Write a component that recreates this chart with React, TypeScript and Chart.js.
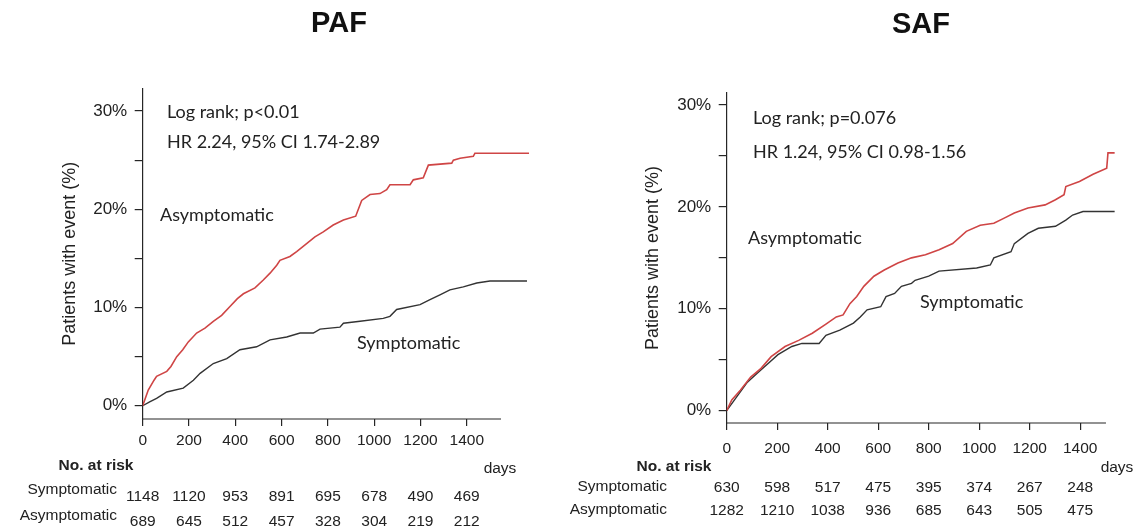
import { useEffect, useRef } from 'react';
import { Chart, registerables } from 'chart.js';

Chart.register(...registerables);

// ---------- data ----------
const X_TICKS = [0, 200, 400, 600, 800, 1000, 1200, 1400];
const Y_TICKS = [0, 5, 10, 15, 20, 25, 30];
const Y_LABELED = [0, 10, 20, 30];

// [days, % patients with event]
const PAF_ASYMPTOMATIC: [number, number][] = [
  [0, 0], [24, 1.6], [49, 2.6], [60, 3.0], [104, 3.5], [122, 4.0], [147, 5.0], [173, 5.7],
  [197, 6.5], [233, 7.4], [269, 7.9], [305, 8.6], [341, 9.2], [377, 10.1], [409, 10.9],
  [435, 11.4], [485, 12.0], [521, 12.8], [550, 13.5], [579, 14.3], [593, 14.8], [636, 15.2],
  [665, 15.7], [708, 16.5], [744, 17.2], [780, 17.7], [823, 18.4], [867, 18.9], [920, 19.3],
  [946, 20.9], [982, 21.5], [1025, 21.6], [1054, 22.0], [1068, 22.5], [1155, 22.5],
  [1169, 23.0], [1212, 23.2], [1234, 24.5], [1335, 24.7], [1342, 25.0], [1371, 25.2],
  [1428, 25.4], [1435, 25.7], [1669, 25.7],
];
const PAF_SYMPTOMATIC: [number, number][] = [
  [0, 0], [30, 0.4], [60, 0.75], [104, 1.4], [175, 1.8], [219, 2.6], [248, 3.3], [305, 4.3],
  [363, 4.8], [420, 5.7], [492, 6.0], [550, 6.7], [622, 7.0], [680, 7.4], [737, 7.4],
  [766, 7.8], [852, 8.0], [867, 8.4], [939, 8.6], [1039, 8.9], [1068, 9.1], [1097, 9.8],
  [1198, 10.3], [1241, 10.8], [1284, 11.3], [1327, 11.8], [1385, 12.1], [1443, 12.5],
  [1500, 12.7], [1660, 12.7],
];
const SAF_ASYMPTOMATIC: [number, number][] = [
  [0, 0], [20, 1.05], [54, 2.0], [95, 3.3], [136, 4.15], [176, 5.3], [231, 6.3], [285, 6.9],
  [339, 7.6], [393, 8.5], [434, 9.2], [461, 9.4], [488, 10.5], [515, 11.2], [543, 12.2],
  [583, 13.2], [624, 13.8], [678, 14.5], [732, 15.0], [787, 15.3], [841, 15.8], [895, 16.4],
  [949, 17.6], [1004, 18.2], [1058, 18.4], [1099, 18.9], [1139, 19.4], [1193, 19.9],
  [1261, 20.2], [1302, 20.7], [1336, 21.2], [1343, 22.0], [1397, 22.5], [1451, 23.2],
  [1505, 23.8], [1510, 25.3], [1537, 25.3],
];
const SAF_SYMPTOMATIC: [number, number][] = [
  [0, 0], [41, 1.4], [82, 2.8], [122, 3.7], [163, 4.6], [203, 5.5], [258, 6.3], [298, 6.6],
  [366, 6.6], [393, 7.4], [448, 7.9], [502, 8.6], [529, 9.2], [556, 9.9], [610, 10.2],
  [631, 11.2], [665, 11.5], [692, 12.2], [732, 12.5], [746, 12.8], [800, 13.2], [841, 13.7],
  [990, 14.0], [1044, 14.3], [1058, 15.0], [1126, 15.6], [1139, 16.4], [1193, 17.4],
  [1234, 17.9], [1302, 18.1], [1343, 18.7], [1370, 19.2], [1411, 19.55], [1537, 19.55],
];

const PAF_RISK_SYMPTOMATIC = [1148, 1120, 953, 891, 695, 678, 490, 469];
const PAF_RISK_ASYMPTOMATIC = [689, 645, 512, 457, 328, 304, 219, 212];
const SAF_RISK_SYMPTOMATIC = [630, 598, 517, 475, 395, 374, 267, 248];
const SAF_RISK_ASYMPTOMATIC = [1282, 1210, 1038, 936, 685, 643, 505, 475];

// ---------- styles ----------
const W = 1137;
const H = 529;
const RED = '#cf4545';
const BLACK = '#333333';
const AXIS = '#262626';
const TEXT = '#222222';
const ARIAL = '"Liberation Sans", Arial, sans-serif';
const CALIBRI = 'Lato, "Open Sans", sans-serif';
const X_AXIS_H = 60;

function hasFont(name: string): boolean {
  const c = document.createElement('canvas').getContext('2d');
  if (!c) return false;
  const s = '1234567890 abcdefghij';
  c.font = '20px monospace';
  const a = c.measureText(s).width;
  c.font = `20px "${name}", monospace`;
  const b = c.measureText(s).width;
  return Math.abs(a - b) > 0.5;
}

type Txt = { text: string; x: number; y: number };
type Panel = {
  key: string;
  canvasLeft: number;
  canvasWidth: number;
  plotLeft: number;
  plotRight: number;
  plotTop: number;
  plotBottom: number;
  xMax: number;
  axisEndDay: number;
  yMin: number;
  yMax: number;
  xTickPad: number;
  yTitleX: number;
  asym: [number, number][];
  sym: [number, number][];
  title: Txt;
  notes: Txt[];
  curveLabels: Txt[];
  riskHeader: Txt;
  days: Txt;
  rowLabelRight: number;
  rows: { label: string; values: number[]; labelY: number; valueY: number }[];
};

const PANELS: Panel[] = [
  {
    key: 'PAF',
    canvasLeft: 0,
    canvasWidth: 568,
    plotLeft: 142.7,
    plotRight: 529.3,
    plotTop: 88.5,
    plotBottom: 419,
    xMax: 1670,
    axisEndDay: 1548,
    yMin: -1.35,
    yMax: 32.3,
    xTickPad: 5,
    yTitleX: 70,
    asym: PAF_ASYMPTOMATIC,
    sym: PAF_SYMPTOMATIC,
    title: { text: 'PAF', x: 339, y: 24 },
    notes: [
      { text: 'Log rank; p<0.01', x: 167, y: 112 },
      { text: 'HR 2.24, 95% CI 1.74-2.89', x: 167, y: 142 },
    ],
    curveLabels: [
      { text: 'Asymptomatic', x: 160, y: 215 },
      { text: 'Symptomatic', x: 357, y: 343 },
    ],
    riskHeader: { text: 'No. at risk', x: 96, y: 466 },
    days: { text: 'days', x: 500, y: 469 },
    rowLabelRight: 117,
    rows: [
      { label: 'Symptomatic', values: PAF_RISK_SYMPTOMATIC, labelY: 490, valueY: 497 },
      { label: 'Asymptomatic', values: PAF_RISK_ASYMPTOMATIC, labelY: 516, valueY: 522 },
    ],
  },
  {
    key: 'SAF',
    canvasLeft: 568,
    canvasWidth: 569,
    plotLeft: 726.7,
    plotRight: 1114.8,
    plotTop: 93,
    plotBottom: 423,
    xMax: 1537,
    axisEndDay: 1502,
    yMin: -1.21,
    yMax: 31.18,
    xTickPad: 9,
    yTitleX: 653,
    asym: SAF_ASYMPTOMATIC,
    sym: SAF_SYMPTOMATIC,
    title: { text: 'SAF', x: 921, y: 25 },
    notes: [
      { text: 'Log rank; p=0.076', x: 753, y: 118 },
      { text: 'HR 1.24, 95% CI 0.98-1.56', x: 753, y: 152 },
    ],
    curveLabels: [
      { text: 'Asymptomatic', x: 748, y: 238 },
      { text: 'Symptomatic', x: 920, y: 302 },
    ],
    riskHeader: { text: 'No. at risk', x: 674, y: 467 },
    days: { text: 'days', x: 1117, y: 468 },
    rowLabelRight: 667,
    rows: [
      { label: 'Symptomatic', values: SAF_RISK_SYMPTOMATIC, labelY: 487, valueY: 488 },
      { label: 'Asymptomatic', values: SAF_RISK_ASYMPTOMATIC, labelY: 510, valueY: 511 },
    ],
  },
];

function makePlugin(p: Panel, narrowFamily: string, narrowSize: number) {
  const lx = (x: number) => x - p.canvasLeft;
  return {
    id: 'panelText_' + p.key,
    afterDraw(chart: any) {
      const ctx: CanvasRenderingContext2D = chart.ctx;
      const xs = chart.scales.x;
      const yb = chart.chartArea.bottom;
      ctx.save();
      // x axis line (ends before the curves, as in the original)
      ctx.strokeStyle = AXIS;
      ctx.lineWidth = 1.2;
      ctx.beginPath();
      ctx.moveTo(xs.getPixelForValue(0), yb);
      ctx.lineTo(xs.getPixelForValue(p.axisEndDay), yb);
      ctx.stroke();

      ctx.textBaseline = 'middle';
      // title
      ctx.fillStyle = '#111';
      ctx.textAlign = 'center';
      ctx.font = `bold 29px ${ARIAL}`;
      ctx.fillText(p.title.text, lx(p.title.x), p.title.y);
      // notes and curve labels
      ctx.fillStyle = TEXT;
      ctx.textAlign = 'left';
      ctx.font = `18px ${CALIBRI}`;
      for (const t of [...p.notes, ...p.curveLabels]) ctx.fillText(t.text, lx(t.x), t.y);
      // risk table
      ctx.textAlign = 'center';
      ctx.font = `bold ${narrowSize}px ${narrowFamily}`;
      ctx.fillText(p.riskHeader.text, lx(p.riskHeader.x), p.riskHeader.y);
      ctx.font = `${narrowSize}px ${narrowFamily}`;
      ctx.fillText(p.days.text, lx(p.days.x), p.days.y);
      for (const r of p.rows) {
        ctx.textAlign = 'right';
        ctx.fillText(r.label, lx(p.rowLabelRight), r.labelY);
        ctx.textAlign = 'center';
        r.values.forEach((v, i) => {
          ctx.fillText(String(v), xs.getPixelForValue(X_TICKS[i]), r.valueY);
        });
      }
      ctx.restore();
    },
  };
}

function PanelChart({ p }: { p: Panel }) {
  const ref = useRef<HTMLCanvasElement | null>(null);
  useEffect(() => {
    const canvas = ref.current;
    if (!canvas) return;
    const narrow = hasFont('Liberation Sans Narrow');
    const narrowFamily = narrow ? '"Liberation Sans Narrow", "Liberation Sans", Arial, sans-serif' : ARIAL;
    const narrowSize = narrow ? 19 : 15.5;
    const lx = (x: number) => x - p.canvasLeft;
    const chart = new Chart(canvas, {
      type: 'line',
      data: {
        datasets: [
          {
            label: 'Asymptomatic',
            data: p.asym.map(([x, y]) => ({ x, y })),
            borderColor: RED,
            borderWidth: 1.6,
            pointRadius: 0,
            tension: 0,
            fill: false,
          },
          {
            label: 'Symptomatic',
            data: p.sym.map(([x, y]) => ({ x, y })),
            borderColor: BLACK,
            borderWidth: 1.4,
            pointRadius: 0,
            tension: 0,
            fill: false,
          },
        ],
      },
      options: {
        animation: false,
        responsive: false,
        events: [],
        layout: {
          padding: {
            left: 0,
            top: p.plotTop,
            right: p.canvasWidth - lx(p.plotRight),
            bottom: H - p.plotBottom - X_AXIS_H,
          },
        },
        plugins: {
          legend: { display: false },
          tooltip: { enabled: false },
          title: { display: false },
        },
        scales: {
          x: {
            type: 'linear',
            position: 'bottom',
            min: 0,
            max: p.xMax,
            afterBuildTicks: (s: any) => {
              s.ticks = X_TICKS.map((v) => ({ value: v }));
            },
            afterFit: (s: any) => {
              s.height = X_AXIS_H;
            },
            grid: { drawOnChartArea: false, drawTicks: true, tickLength: 7, color: AXIS, lineWidth: 1.2 },
            border: { display: false },
            ticks: {
              autoSkip: false,
              maxRotation: 0,
              padding: p.xTickPad,
              color: TEXT,
              font: { family: narrowFamily, size: narrowSize },
              callback: (v: any) => String(v),
            },
          },
          y: {
            type: 'linear',
            min: p.yMin,
            max: p.yMax,
            afterBuildTicks: (s: any) => {
              s.ticks = Y_TICKS.map((v) => ({ value: v }));
            },
            afterFit: (s: any) => {
              s.width = lx(p.plotLeft);
            },
            grid: { drawOnChartArea: false, drawTicks: true, tickLength: 8, color: AXIS, lineWidth: 1.2 },
            border: { display: true, color: AXIS, width: 1.2 },
            ticks: {
              autoSkip: false,
              padding: 7.5,
              color: TEXT,
              font: { family: ARIAL, size: 17 },
              callback: (v: any) => (Y_LABELED.includes(Number(v)) ? `${v}%` : ''),
            },
            title: {
              display: true,
              text: 'Patients with event (%)',
              color: TEXT,
              font: { family: ARIAL, size: 18 },
              padding: { top: lx(p.yTitleX) - 18 * 1.2 / 2, bottom: 0 },
            },
          },
        },
      } as any,
      plugins: [makePlugin(p, narrowFamily, narrowSize)],
    });
    return () => chart.destroy();
  }, [p]);
  return (
    <canvas
      ref={ref}
      width={p.canvasWidth}
      height={H}
      style={{ position: 'absolute', left: p.canvasLeft, top: 0, width: p.canvasWidth, height: H }}
    />
  );
}

export default function App() {
  return (
    <div style={{ position: 'absolute', left: 0, top: 0, width: W, height: H, background: '#fff', overflow: 'hidden' }}>
      {PANELS.map((p) => (
        <PanelChart key={p.key} p={p} />
      ))}
    </div>
  );
}
